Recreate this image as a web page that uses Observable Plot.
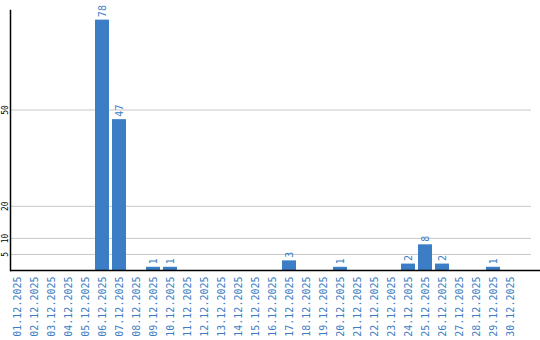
<!DOCTYPE html>
<html>
<head>
<meta charset="utf-8">
<script src="https://cdn.jsdelivr.net/npm/d3@7"></script>
<script src="https://cdn.jsdelivr.net/npm/@observablehq/plot@0.6"></script>
<style>
  html, body { margin: 0; padding: 0; background: #fff; }
  #chart svg { display: block; }
</style>
</head>
<body>
<div id="chart"></div>
<script>
const dates = [
  "01.12.2025","02.12.2025","03.12.2025","04.12.2025","05.12.2025",
  "06.12.2025","07.12.2025","08.12.2025","09.12.2025","10.12.2025",
  "11.12.2025","12.12.2025","13.12.2025","14.12.2025","15.12.2025",
  "16.12.2025","17.12.2025","18.12.2025","19.12.2025","20.12.2025",
  "21.12.2025","22.12.2025","23.12.2025","24.12.2025","25.12.2025",
  "26.12.2025","27.12.2025","28.12.2025","29.12.2025","30.12.2025"
];
const counts = [0,0,0,0,0,78,47,0,1,1,0,0,0,0,0,0,3,0,0,1,0,0,0,2,8,2,0,0,1,0];
const yTicks = [5, 10, 20, 50];

const data = dates.map((d, i) => ({date: d, value: counts[i]}));
const labelled = data.filter(d => d.value > 0);

const blue = "#3b7ec5";
const mono = "'DejaVu Sans Mono', monospace";

const chart = Plot.plot({
  width: 540,
  height: 340,
  marginTop: 10,
  marginBottom: 70,
  marginLeft: 10,
  marginRight: 0,
  style: {fontFamily: mono, background: "#fff"},
  x: {domain: dates, paddingInner: 3/17, paddingOuter: 0.676, align: 0, label: null},
  y: {domain: [0, 81], label: null, axis: null},
  marks: [
    Plot.ruleY(yTicks, {stroke: "#c8c8c8", strokeWidth: 1, insetRight: 9}),
    Plot.barY(data, {x: "date", y: "value", fill: blue}),
    Plot.text(labelled, {x: "date", y: "value", text: d => String(d.value), rotate: -90,
      textAnchor: "start", lineAnchor: "middle", dy: -3, fill: blue, fontSize: 10, fontFamily: mono}),
    Plot.axisX({tickSize: 0, tickPadding: 6, tickRotate: -90, fontSize: 10, color: blue, label: null, fontFamily: mono}),
    Plot.text(yTicks, {y: d => d, text: d => String(d), frameAnchor: "left", dx: -5, rotate: -90,
      textAnchor: "middle", lineAnchor: "middle", fontSize: 8, fill: "#000", fontFamily: mono}),
    Plot.ruleY([0], {stroke: "#000", strokeWidth: 1.5}),
    Plot.frame({anchor: "left", stroke: "#000", strokeWidth: 1.5})
  ]
});
document.getElementById("chart").appendChild(chart);
</script>
</body>
</html>
